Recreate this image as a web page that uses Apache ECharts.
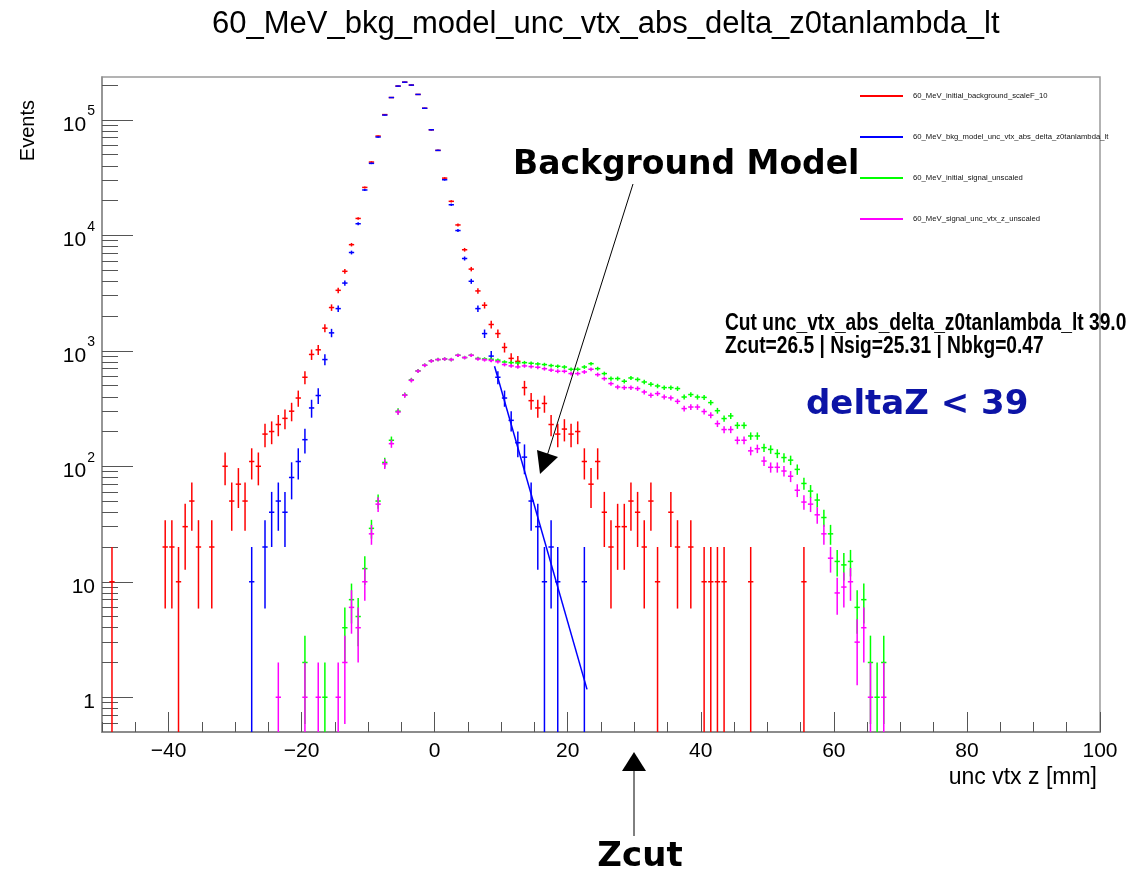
<!DOCTYPE html>
<html>
<head>
<meta charset="utf-8">
<title>60_MeV_bkg_model_unc_vtx_abs_delta_z0tanlambda_lt</title>
<script src="https://cdn.jsdelivr.net/npm/echarts@6/dist/echarts.min.js"></script>
<style>
  html, body { margin: 0; padding: 0; background: #ffffff; }
  #chart { width: 1144px; height: 874px; }
</style>
</head>
<body>
<div id="chart"></div>
<script>
// ---- histogram contents: [bin centre (mm), entries] ----
const redData = [ // 60_MeV_initial_background_scaleF_10
  [-48.5,10],[-40.5,20],[-39.5,20],[-38.5,10],[-37.5,30],[-36.5,50],[-35.5,20],[-33.5,20],
  [-31.5,100],[-30.5,50],[-29.5,70],[-28.5,50],[-27.5,110],[-26.5,100],[-25.5,190],[-24.5,200],
  [-23.5,230],[-22.5,260],[-21.5,300],[-20.5,390],[-19.5,590],[-18.5,930],[-17.5,1020],[-16.5,1570],
  [-15.5,2370],[-14.5,3340],[-13.5,4880],[-12.5,8300],[-11.5,14000],[-10.5,26000],[-9.5,43100],
  [-8.5,72400],[-7.5,111000],[-6.5,156000],[-5.5,196000],[-4.5,212000],[-3.5,200000],[-2.5,166000],
  [-1.5,126000],[-0.5,82000],[0.5,54400],[1.5,31300],[2.5,19700],[3.5,12300],[4.5,7500],[5.5,5100],
  [6.5,3300],[7.5,2480],[8.5,1690],[9.5,1410],[10.5,1070],[11.5,860],[12.5,810],[13.5,480],
  [14.5,370],[15.5,320],[16.5,350],[17.5,230],[18.5,190],[19.5,210],[20.5,190],[21.5,200],
  [22.5,110],[23.5,70],[24.5,110],[25.5,40],[26.5,20],[27.5,30],[28.5,30],[29.5,50],[30.5,40],
  [31.5,20],[32.5,50],[33.5,10],[35.5,40],[36.5,20],[38.5,20],[40.5,10],[41.5,10],[42.5,10],
  [43.5,10],[47.5,10],[55.5,10]
];
const blueData = [ // 60_MeV_bkg_model_unc_vtx_abs_delta_z0tanlambda_lt
  [-27.5,10],[-25.5,20],[-24.5,40],[-23.5,50],[-22.5,40],[-21.5,80],[-20.5,110],[-19.5,170],
  [-18.5,320],[-17.5,410],[-16.5,840],[-15.5,1430],[-14.5,2320],[-13.5,3860],[-12.5,7100],
  [-11.5,12600],[-10.5,24700],[-9.5,42000],[-8.5,71000],[-7.5,110000],[-6.5,156000],[-5.5,196000],
  [-4.5,212000],[-3.5,200000],[-2.5,166000],[-1.5,126000],[-0.5,82000],[0.5,54400],[1.5,30300],
  [2.5,18400],[3.5,11000],[4.5,6300],[5.5,4000],[6.5,2320],[7.5,1410],[8.5,900],[9.5,590],
  [10.5,390],[11.5,250],[12.5,160],[13.5,120],[14.5,50],[15.5,30],[16.5,10],[17.5,20],[18.5,10],
  [22.5,10]
];
const greenData = [ // 60_MeV_initial_signal_unscaled
  [-19.5,2],[-16.5,1],[-13.5,4],[-12.5,7],[-11.5,5],[-10.5,13],[-9.5,29],[-8.5,50],[-7.5,108],
  [-6.5,168],[-5.5,300],[-4.5,415],[-3.5,560],[-2.5,670],[-1.5,750],[-0.5,820],[0.5,840],[1.5,850],
  [2.5,840],[3.5,915],[4.5,875],[5.5,915],[6.5,860],[7.5,850],[8.5,845],[9.5,830],[10.5,800],
  [11.5,790],[12.5,785],[13.5,790],[14.5,780],[15.5,770],[16.5,760],[17.5,745],[18.5,735],
  [19.5,724],[20.5,692],[21.5,692],[22.5,724],[23.5,774],[24.5,701],[25.5,635],[26.5,575],
  [27.5,575],[28.5,545],[29.5,582],[30.5,565],[31.5,537],[32.5,513],[33.5,496],[34.5,480],
  [35.5,480],[36.5,471],[37.5,398],[38.5,418],[39.5,398],[40.5,395],[41.5,356],[42.5,303],
  [43.5,259],[44.5,273],[45.5,226],[46.5,226],[47.5,183],[48.5,183],[49.5,145],[50.5,140],
  [51.5,129],[52.5,119],[53.5,113],[54.5,94],[55.5,71],[56.5,61],[57.5,51],[58.5,36],[59.5,26],
  [60.5,15],[61.5,14],[62.5,15],[63.5,6],[64.5,7],[65.5,2],[66.5,1],[67.5,2]
];
const magentaData = [ // 60_MeV_signal_unc_vtx_z_unscaled
  [-23.5,1],[-19.5,1],[-17.5,1],[-14.5,1],[-13.5,2],[-12.5,6],[-11.5,4],[-10.5,10],[-9.5,26],
  [-8.5,47],[-7.5,105],[-6.5,157],[-5.5,295],[-4.5,412],[-3.5,555],[-2.5,668],[-1.5,749],
  [-0.5,816],[0.5,839],[1.5,849],[2.5,839],[3.5,914],[4.5,873],[5.5,914],[6.5,849],[7.5,835],
  [8.5,825],[9.5,805],[10.5,760],[11.5,740],[12.5,725],[13.5,740],[14.5,730],[15.5,720],
  [16.5,700],[17.5,680],[18.5,665],[19.5,665],[20.5,635],[21.5,635],[22.5,656],[23.5,692],
  [24.5,622],[25.5,575],[26.5,520],[27.5,486],[28.5,480],[29.5,480],[30.5,471],[31.5,440],
  [32.5,412],[33.5,426],[34.5,398],[35.5,391],[36.5,365],[37.5,316],[38.5,326],[39.5,326],
  [40.5,298],[41.5,277],[42.5,234],[43.5,208],[44.5,208],[45.5,168],[46.5,168],[47.5,136],
  [48.5,142],[49.5,111],[50.5,98],[51.5,98],[52.5,91],[53.5,82],[54.5,62],[55.5,49],[56.5,47],
  [57.5,38],[58.5,26],[59.5,16],[60.5,8],[61.5,9],[62.5,10],[63.5,3],[64.5,4],[65.5,1],[67.5,1]
];
// exponential background-model fit, drawn as a straight segment on the log axis
const fitLine = [[9.0, 734], [22.9, 1.17]];

// ---- axes ----
const xMajorTicks = [-40, -20, 0, 20, 40, 60, 80, 100];
const yMajorTicks = [1, 10, 100, 1000, 10000, 100000];
const yMinorTicks = [0.6, 0.7, 0.8, 0.9];
[1, 10, 100, 1000, 10000, 100000].forEach(d => {
  for (let m = 2; m <= 9; m++) if (m * d <= 235000) yMinorTicks.push(m * d);
});
const X_MIN = -50, X_MAX = 100, Y_MIN = 0.5, Y_MAX = 235000;

const chart = echarts.init(document.getElementById('chart'), null, { renderer: 'canvas' });

// Poisson error bars; scale is the weight applied to each raw entry
function histSeries(name, data, color, scale, z) {
  return {
    name: name,
    type: 'custom',
    xAxisIndex: 0,
    yAxisIndex: 0,
    clip: true,
    z: z,
    color: color,
    itemStyle: { color: color },
    encode: { x: 0, y: 1 },
    data: data.map(([x, v]) => {
      const e = Math.sqrt(scale * v);
      return [x, v, v - e, v + e];
    }),
    renderItem: function (params, api) {
      const x = api.value(0), v = api.value(1);
      const lo = Math.max(api.value(2), Y_MIN), hi = api.value(3);
      const c = api.coord([x, v]);
      const pLo = api.coord([x, lo]);
      const pHi = api.coord([x, hi]);
      const pL = api.coord([x - 0.4, v]);
      const pR = api.coord([x + 0.4, v]);
      const style = { stroke: color, lineWidth: 1.5 };
      return {
        type: 'group',
        children: [
          { type: 'line', shape: { x1: c[0], y1: pLo[1], x2: c[0], y2: pHi[1] }, style: style },
          { type: 'line', shape: { x1: pL[0], y1: c[1], x2: pR[0], y2: c[1] }, style: style }
        ]
      };
    }
  };
}

const option = {
  animation: false,
  backgroundColor: '#ffffff',
  title: {
    text: '60_MeV_bkg_model_unc_vtx_abs_delta_z0tanlambda_lt',
    left: 207,
    top: 4,
    textStyle: { fontFamily: 'Liberation Sans', fontWeight: 'normal', fontSize: 31, color: '#000' }
  },
  legend: {
    orient: 'vertical',
    left: 855,
    top: 87,
    itemGap: 33,
    itemWidth: 43,
    itemHeight: 2,
    icon: 'rect',
    selectedMode: false,
    textStyle: { fontFamily: 'Liberation Sans', fontSize: 7.7, color: '#111', padding: [0, 0, 0, 5] },
    data: [
      '60_MeV_initial_background_scaleF_10',
      '60_MeV_bkg_model_unc_vtx_abs_delta_z0tanlambda_lt',
      '60_MeV_initial_signal_unscaled',
      '60_MeV_signal_unc_vtx_z_unscaled'
    ]
  },
  grid: {
    left: 102, right: 44, top: 77, bottom: 142,
    show: true, borderColor: '#9a9a9a', borderWidth: 1.5, backgroundColor: 'transparent'
  },
  xAxis: [
    {
      type: 'value', min: X_MIN, max: X_MAX,
      axisLine: { show: true, onZero: false, lineStyle: { color: '#8c8c8c', width: 2 } },
      axisTick: { show: true, inside: true, length: 20, customValues: xMajorTicks,
                  lineStyle: { color: '#555', width: 1 } },
      axisLabel: {
        customValues: xMajorTicks, margin: 9,
        fontFamily: 'Liberation Sans', fontSize: 21, color: '#000',
        formatter: v => (v < 0 ? '\u2212' + Math.abs(v) : String(v))
      },
      splitLine: { show: false }
    },
    {
      type: 'value', min: X_MIN, max: X_MAX, interval: 5, position: 'bottom',
      axisLine: { show: false, onZero: false },
      axisTick: { show: true, inside: true, length: 10, lineStyle: { color: '#555', width: 1 } },
      axisLabel: { show: false },
      splitLine: { show: false }
    }
  ],
  yAxis: [
    {
      type: 'log', logBase: 10, min: Y_MIN, max: Y_MAX,
      axisLine: { show: true, onZero: false, lineStyle: { color: '#8c8c8c', width: 1.5 } },
      axisTick: { show: true, inside: true, length: 31, customValues: yMajorTicks,
                  lineStyle: { color: '#555', width: 1 } },
      axisLabel: {
        customValues: yMajorTicks, margin: 7,
        fontFamily: 'Liberation Sans', fontSize: 21, color: '#000',
        formatter: v => {
          if (v < 5) return '{b|1}';
          if (v < 50) return '{b|10}';
          const e = Math.round(Math.log10(v));
          return '{b|10}{s|' + e + '}';
        },
        rich: {
          b: { fontFamily: 'Liberation Sans', fontSize: 21, color: '#000', verticalAlign: 'bottom', padding: [10, 0, 0, 0] },
          s: { fontFamily: 'Liberation Sans', fontSize: 14, color: '#000', verticalAlign: 'top', padding: [0, 0, 10, 1] }
        }
      },
      splitLine: { show: false }
    },
    {
      type: 'log', logBase: 10, min: Y_MIN, max: Y_MAX, position: 'left',
      axisLine: { show: false, onZero: false },
      axisTick: { show: true, inside: true, length: 16, customValues: yMinorTicks,
                  lineStyle: { color: '#555', width: 1 } },
      axisLabel: { show: false },
      splitLine: { show: false }
    }
  ],
  series: [
    histSeries('60_MeV_initial_background_scaleF_10', redData, '#ff0000', 10, 2),
    histSeries('60_MeV_bkg_model_unc_vtx_abs_delta_z0tanlambda_lt', blueData, '#0000ff', 10, 3),
    histSeries('60_MeV_initial_signal_unscaled', greenData, '#00ff00', 1, 4),
    histSeries('60_MeV_signal_unc_vtx_z_unscaled', magentaData, '#ff00ff', 1, 5),
    {
      name: 'fit',
      type: 'line',
      xAxisIndex: 0, yAxisIndex: 0,
      data: fitLine,
      showSymbol: false,
      symbol: 'none',
      z: 6,
      lineStyle: { color: '#0000ff', width: 1.5 }
    }
  ],
  graphic: [
    // y-axis title
    { type: 'text', x: 28, y: 100, rotation: Math.PI / 2, z: 10,
      style: { text: 'Events', fill: '#000', font: '20px "Liberation Sans"', textAlign: 'right', textVerticalAlign: 'middle' } },
    // x-axis title
    { type: 'text', x: 1097, y: 778, z: 10,
      style: { text: 'unc vtx z [mm]', fill: '#000', font: '23px "Liberation Sans"', textAlign: 'right', textVerticalAlign: 'middle' } },
    // cut summary
    { type: 'text', x: 725, y: 324, scaleX: 0.835, z: 10,
      style: { text: 'Cut unc_vtx_abs_delta_z0tanlambda_lt 39.0', fill: '#000',
               font: 'bold 23px "Liberation Sans"', textAlign: 'left', textVerticalAlign: 'middle' } },
    { type: 'text', x: 725, y: 347, scaleX: 0.835, z: 10,
      style: { text: 'Zcut=26.5 | Nsig=25.31 | Nbkg=0.47', fill: '#000',
               font: 'bold 23px "Liberation Sans"', textAlign: 'left', textVerticalAlign: 'middle' } },
    { type: 'text', x: 806, y: 405, z: 10,
      style: { text: 'deltaZ < 39', fill: '#0c14a6',
               font: 'bold 34px "DejaVu Sans"', textAlign: 'left', textVerticalAlign: 'middle' } },
    // Background Model annotation
    { type: 'text', x: 513, y: 165, z: 10,
      style: { text: 'Background Model', fill: '#000',
               font: 'bold 33px "DejaVu Sans"', textAlign: 'left', textVerticalAlign: 'middle' } },
    { type: 'line', z: 10, shape: { x1: 633, y1: 184, x2: 547, y2: 456 }, style: { stroke: '#000', lineWidth: 1 } },
    { type: 'polygon', z: 10, shape: { points: [[537, 450], [558, 457], [540, 474]] }, style: { fill: '#000' } },
    // Zcut annotation
    { type: 'text', x: 640, y: 857, z: 10,
      style: { text: 'Zcut', fill: '#000',
               font: 'bold 34px "DejaVu Sans"', textAlign: 'center', textVerticalAlign: 'middle' } },
    { type: 'line', z: 10, shape: { x1: 634, y1: 770, x2: 634, y2: 836 }, style: { stroke: '#000', lineWidth: 1 } },
    { type: 'polygon', z: 10, shape: { points: [[622, 771], [646, 771], [634, 752]] }, style: { fill: '#000' } }
  ]
};

chart.setOption(option);
</script>
</body>
</html>
